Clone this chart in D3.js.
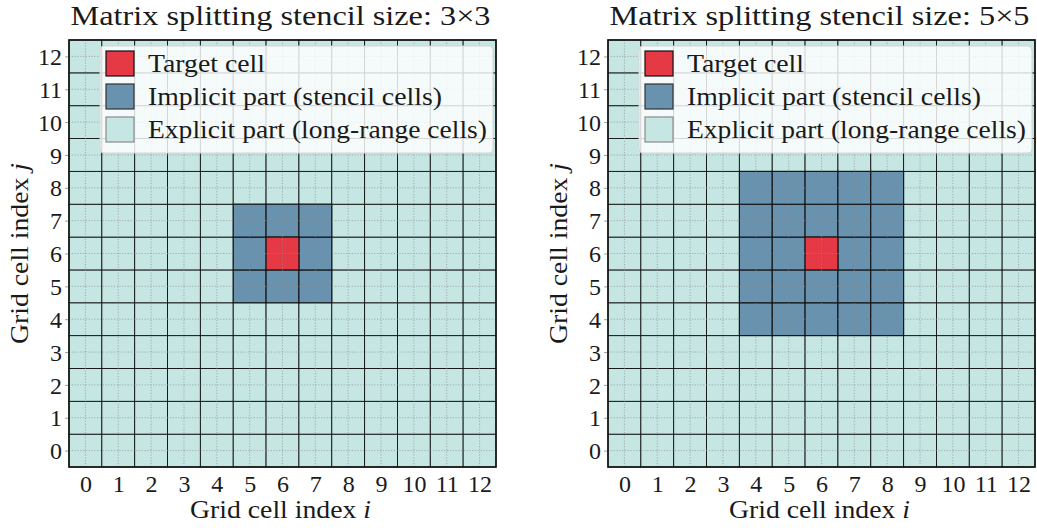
<!DOCTYPE html>
<html>
<head>
<meta charset="utf-8">
<script src="https://cdn.jsdelivr.net/npm/d3@7"></script>
<style>
  html, body { margin: 0; padding: 0; background: #ffffff; }
  svg { display: block; }
  text { font-family: "Liberation Serif", "DejaVu Serif", serif; fill: #1a1a1a; }
</style>
</head>
<body>
<svg id="chart" width="1037" height="531"></svg>
<script>
// Grid and stencil definitions
const gridIndices = [0, 1, 2, 3, 4, 5, 6, 7, 8, 9, 10, 11, 12];
const tickLabels = ["0", "1", "2", "3", "4", "5", "6", "7", "8", "9", "10", "11", "12"];
const targetCell = [6, 6];
const stencilSizes = [3, 5];
const panelTitles = ["Matrix splitting stencil size: 3\u00d73", "Matrix splitting stencil size: 5\u00d75"];
const legendLabels = ["Target cell", "Implicit part (stencil cells)", "Explicit part (long-range cells)"];

const colors = { target: "#e63946", implicit: "#6892ad", explicit: "#c5e6e2" };
const legendEdges = ["#111111", "#333333", "#8a8a8a"];
const legendFills = [colors.target, colors.implicit, colors.explicit];

const svg = d3.select("#chart");
const panelLeft = [69, 608];
const plotTop = 40, plotSize = 427;
// rendered widths of the serif text runs
const legendTextWidths = [117, 294, 339];
const titleWidth = 420, axisLabelWidth = 181;

function cellKind(i, j, stencil) {
  const h = (stencil - 1) / 2;
  if (i === targetCell[0] && j === targetCell[1]) return "target";
  if (Math.abs(i - targetCell[0]) <= h && Math.abs(j - targetCell[1]) <= h) return "implicit";
  return "explicit";
}

stencilSizes.forEach((stencil, p) => {
  const L = panelLeft[p];
  const g = svg.append("g");

  const x = d3.scaleLinear().domain([-0.5, 12.5]).range([L, L + plotSize]);
  const y = d3.scaleLinear().domain([-0.5, 12.5]).range([plotTop + plotSize, plotTop]);

  const cells = [];
  gridIndices.forEach(i => gridIndices.forEach(j => cells.push({ i, j, kind: cellKind(i, j, stencil) })));

  // cells (explicit first, then implicit, then target so edges stay on top)
  const order = { explicit: 0, implicit: 1, target: 2 };
  cells.sort((a, b) => order[a.kind] - order[b.kind]);
  g.selectAll("rect.cell").data(cells).enter().append("rect")
    .attr("class", "cell")
    .attr("x", d => x(d.i - 0.5))
    .attr("y", d => y(d.j + 0.5))
    .attr("width", d => x(d.i + 0.5) - x(d.i - 0.5))
    .attr("height", d => y(d.j - 0.5) - y(d.j + 0.5))
    .attr("fill", d => colors[d.kind])
    .attr("stroke", "#111")
    .attr("stroke-width", d => d.kind === "explicit" ? 0.9 : 1.1);

  // dotted grid at integer ticks
  const grid = g.append("g").attr("stroke", "#8c8c8c").attr("stroke-opacity", 0.7)
    .attr("stroke-width", 0.9).attr("stroke-dasharray", "1.2,1.6");
  grid.selectAll("line.gx").data(gridIndices).enter().append("line")
    .attr("x1", d => x(d)).attr("x2", d => x(d)).attr("y1", plotTop).attr("y2", plotTop + plotSize);
  grid.selectAll("line.gy").data(gridIndices).enter().append("line")
    .attr("y1", d => y(d)).attr("y2", d => y(d)).attr("x1", L).attr("x2", L + plotSize);

  // axes
  const xAxis = d3.axisBottom(x).tickValues(gridIndices).tickFormat((d, k) => tickLabels[k]).tickSize(0);
  const yAxis = d3.axisLeft(y).tickValues(gridIndices).tickFormat((d, k) => tickLabels[k]).tickSize(4).tickPadding(3);
  const gx = g.append("g").attr("transform", `translate(0,${plotTop + plotSize})`).call(xAxis);
  const gy = g.append("g").attr("transform", `translate(${L},0)`).call(yAxis);
  [gx, gy].forEach(a => {
    a.select(".domain").remove();
    a.selectAll("text").style("font-size", "24px").attr("fill", "#1a1a1a");
    a.selectAll("line").attr("stroke", "#888").attr("stroke-width", 0.8);
  });
  gx.selectAll("text").attr("y", 25).attr("dy", 0);
  gy.selectAll("text").attr("dy", "0.34em");

  // spines
  g.append("rect").attr("x", L).attr("y", plotTop).attr("width", plotSize).attr("height", plotSize)
    .attr("fill", "none").attr("stroke", "#111").attr("stroke-width", 1.6);

  // legend
  const lg = g.append("g");
  lg.append("rect").attr("x", L + 31).attr("y", 46).attr("width", 393).attr("height", 107)
    .attr("rx", 4).attr("fill", "#ffffff").attr("fill-opacity", 0.82)
    .attr("stroke", "#d4d4d4").attr("stroke-width", 1);
  legendLabels.forEach((lab, k) => {
    const cy = 63.5 + k * 33;
    lg.append("rect").attr("x", L + 37).attr("y", cy - 12.5).attr("width", 28).attr("height", 25)
      .attr("fill", legendFills[k]).attr("stroke", legendEdges[k]).attr("stroke-width", 1.2);
    lg.append("text").attr("x", L + 79).attr("y", cy + 8).style("font-size", "26px")
      .attr("textLength", legendTextWidths[k]).attr("lengthAdjust", "spacingAndGlyphs").text(lab);
  });

  // title and axis labels
  g.append("text").attr("x", L + plotSize / 2 - titleWidth / 2 - 2).attr("y", 25)
    .style("font-size", "27px")
    .attr("textLength", titleWidth).attr("lengthAdjust", "spacingAndGlyphs").text(panelTitles[p]);

  const xl = g.append("text").attr("x", L + plotSize / 2 - axisLabelWidth / 2 - 2).attr("y", 518)
    .style("font-size", "25px")
    .attr("textLength", axisLabelWidth).attr("lengthAdjust", "spacingAndGlyphs");
  xl.append("tspan").text("Grid cell index ");
  xl.append("tspan").style("font-style", "italic").text("i");

  const yl = g.append("text")
    .attr("transform", `translate(${L - 41},${plotTop + plotSize / 2 + axisLabelWidth / 2}) rotate(-90)`)
    .style("font-size", "25px")
    .attr("textLength", axisLabelWidth).attr("lengthAdjust", "spacingAndGlyphs");
  yl.append("tspan").text("Grid cell index ");
  yl.append("tspan").style("font-style", "italic").text("j");
});
</script>
</body>
</html>
